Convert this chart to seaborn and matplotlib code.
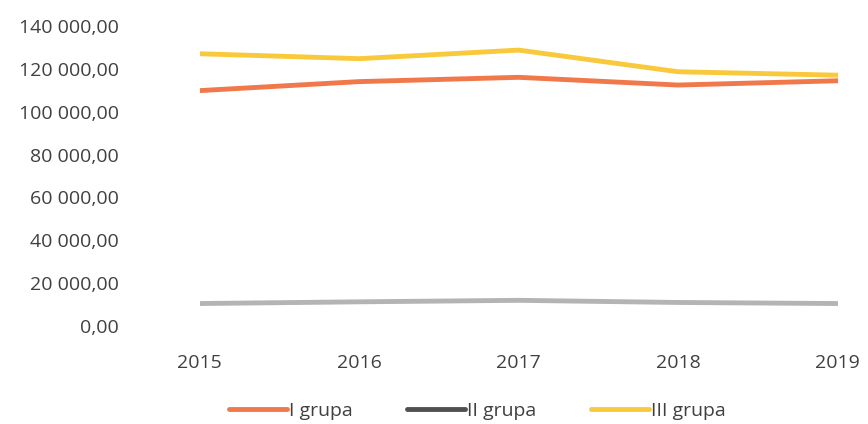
import pandas as pd
import matplotlib.pyplot as plt
import matplotlib.ticker as mticker
import seaborn as sns

# values
years = [2015, 2016, 2017, 2018, 2019]
grupa_1 = [109800, 114000, 116000, 112400, 114400]
grupa_2 = [10500, 11300, 12000, 11000, 10500]
grupa_3 = [127000, 124700, 128700, 118600, 117000]
series_names = ["I grupa", "II grupa", "III grupa"]
colors = ["#F0784A", "#B4B4B4", "#F9C93C"]

df = pd.DataFrame({
    "rok": years * 3,
    "wartosc": grupa_1 + grupa_2 + grupa_3,
    "grupa": [series_names[0]] * 5 + [series_names[1]] * 5 + [series_names[2]] * 5,
})

sns.set_style("white")
plt.rcParams["font.family"] = ["Open Sans", "DejaVu Sans"]

fig = plt.figure(figsize=(8.68, 4.24), dpi=100)
ax = fig.add_axes([0.23, 0.231, 0.735, 0.708])

sns.lineplot(data=df, x="rok", y="wartosc", hue="grupa", palette=colors,
             linewidth=3.5, ax=ax, legend=False)

ax.set_xlim(2015, 2019)
ax.set_ylim(0, 140000)
ax.set_yticks(range(0, 140001, 20000))
ax.yaxis.set_major_formatter(mticker.FuncFormatter(
    lambda v, p: f"{int(v):,}".replace(",", " ") + ",00"))
ax.set_xticks(years)
ax.tick_params(axis="y", labelsize=14, colors="#404040", length=0, pad=58)
ax.tick_params(axis="x", labelsize=14, colors="#404040", length=0, pad=20)
ax.set_xlabel("")
ax.set_ylabel("")
sns.despine(left=True, bottom=True)

# legend below the plot
handles = [plt.Line2D([], [], color=c, lw=3.5) for c in colors]
handles[1].set_color("#505050")
fig.legend(handles, series_names, loc="center", bbox_to_anchor=(0.55, 0.03),
           ncol=3, frameon=False, fontsize=14, handlelength=3.0,
           handletextpad=0.1, columnspacing=2.8, labelcolor="#404040")

fig.savefig("out.png", dpi=100)
